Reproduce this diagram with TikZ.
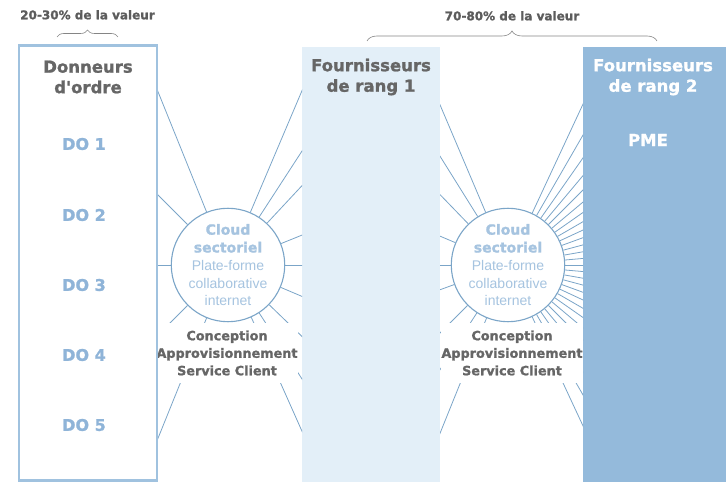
\documentclass[tikz,border=0pt]{standalone}
\usepackage{fontspec}
\setmainfont{Liberation Sans}
\newfontfamily\heavyfont{DejaVu Sans}[BoldFeatures={FakeBold=1.3}]
\usetikzlibrary{positioning,decorations.pathreplacing}
\definecolor{textgray}{HTML}{666666}
\definecolor{doblue}{HTML}{8FB4D8}
\definecolor{frameblue}{HTML}{A0C2DF}
\definecolor{rangun}{HTML}{E3EFF8}
\definecolor{rangdeux}{HTML}{94BADB}
\definecolor{rayblue}{HTML}{7BA5C8}
\definecolor{cloudtext}{HTML}{A6C4E0}
\newcommand\lourd{\heavyfont\bfseries}
\tikzset{
		colonne/.style={
			rectangle,
			anchor=south west,
			inner sep=0pt, outer sep=0pt,
			minimum height=435pt},
		titre/.style={
			font=\lourd\fontsize{16.5}{20.5}\selectfont,
			text=textgray, align=center},
		dolabel/.style={font=\lourd\fontsize{16}{18}\selectfont, text=doblue},
		cloud/.style={
			circle, draw=rayblue, line width=1.1pt, fill=white,
			minimum size=100pt, inner sep=0pt, align=center,
			text=cloudtext, font=\fontsize{14}{17.8}\selectfont},
		rayon/.style={draw=rayblue, line width=0.8pt},
		fonctions/.style={
			fill=white, align=center, text=textgray,
			inner xsep=0.5pt, inner ysep=8pt,
			font=\lourd\fontsize{12.8}{17.5}\selectfont},
		accolade/.style={decorate, draw=textgray!80, line width=0.6pt},
		valeur/.style={font=\lourd\fontsize{12}{14}\selectfont, text=textgray!90!black},
	}
\begin{document}
\begin{tikzpicture}[x=1pt, y=1pt]
	\useasboundingbox (0,0) rectangle (726,482);
	
	% les trois colonnes
	\node[colonne, draw=frameblue, line width=2.5pt, minimum width=138pt] (donneurs) at (19,1.25) {};
	\node[colonne, fill=rangun, minimum width=138pt] (rang1) at (302,0) {};
	\node[colonne, fill=rangdeux, minimum width=143pt] (rang2) at (583,0) {};
	
	\node[titre] (tdo) at (88,405) {Donneurs\\d'ordre};
	\node[titre] (tr1) at (371,405) {Fournisseurs\\de rang 1};
	\node[titre, text=white] (tr2) at (653,405) {Fournisseurs\\de rang 2};
	\node[dolabel, text=white, font=\lourd\fontsize{16.5}{18}\selectfont] (pme) at (648,342) {PME};
	
	\foreach \i/\y in {1/338, 2/267, 3/197, 4/127, 5/57}
		\node[dolabel] (do\i) at (84,\y) {DO \i};
	
	% clouds
	\node[cloud] (cloudL) at (228,217)
		{{\lourd Cloud}\\{\lourd sectoriel}\\Plate-forme\\collaborative\\internet};
	\node[cloud] (cloudR) at (508,217)
		{{\lourd Cloud}\\{\lourd sectoriel}\\Plate-forme\\collaborative\\internet};
	
	\begin{scope}
		\clip (donneurs.south east) rectangle (rang1.north west);
		\foreach \a in {112,135,180,225,248,67,57,47,22,0,-23,-44,-57,-66}
			\draw[rayon] (cloudL.\a) -- ++(\a:300);
	\end{scope}
	\begin{scope}
		\clip (rang1.south east) rectangle (rang2.north west);
		\foreach \a in {113,122,134,157,180,200,225,237,248}
			\draw[rayon] (cloudR.\a) -- ++(\a:300);
		\foreach \a in {65,60,...,-65}
			\draw[rayon] (cloudR.\a) -- ++(\a:300);
	\end{scope}
	
	\node[fonctions] (fonctL) at (227,129) {Conception\\Approvisionnement\\Service Client};
	\node[fonctions] (fonctR) at (512,129) {Conception\\Approvisionnement\\Service Client};
	% le cadre repasse par-dessus
	\draw[frameblue, line width=2.5pt] (donneurs.south west) rectangle (donneurs.north east);
	
	% accolades
	\coordinate (acc1) at (87.5,452);
	\coordinate (acc2) at (512,451);
	\draw[accolade, decoration={brace, amplitude=7pt}] (57,445) -- (118,445);
	\draw[accolade, decoration={brace, amplitude=10pt}] (367,441) -- (657,441);
	\node[valeur, above=7pt of acc1] (v1) {20-30\% de la valeur};
	\node[valeur, above=7pt of acc2] (v2) {70-80\% de la valeur};
\end{tikzpicture}
\end{document}
